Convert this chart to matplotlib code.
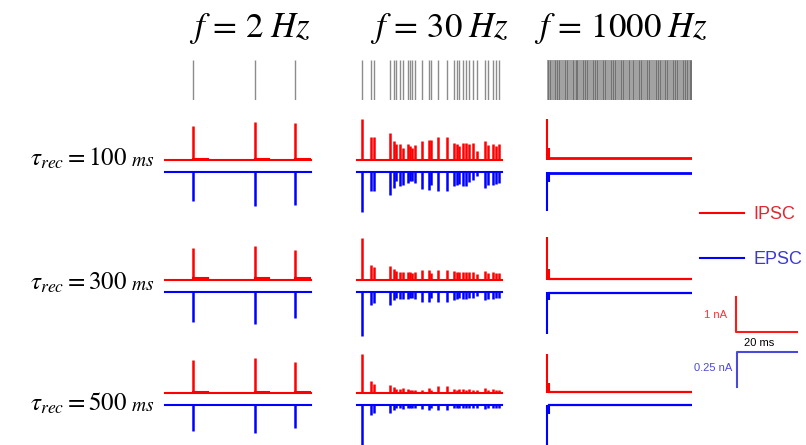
"""
Short-term depression of IPSC / EPSC for three input rates and three
recovery time constants. Spike rasters on top, traces below, scale bars
and legend on the right.
"""

import numpy as np
import matplotlib
matplotlib.use("Agg")
import matplotlib.pyplot as plt
from matplotlib.lines import Line2D

plt.rcParams["mathtext.fontset"] = "stix"
plt.rcParams["font.family"] = ["Liberation Sans", "DejaVu Sans"]

W, H = 806, 445

# ---- data ------------------------------------------------------------
FREQS = [2, 30, 1000]
TAU_REC = [100, 300, 500]
WINDOW_MS = [1500, 1000, 150]

SPIKES_2HZ = [288, 921, 1336]
SPIKES_30HZ = [37, 94, 117, 228, 255, 269, 297, 319, 350, 366, 379, 400,
               450, 497, 510, 561, 619, 671, 688, 703, 733, 754, 770, 802,
               826, 883, 901, 936, 957, 981]
SPIKES_1000HZ_RASTER = [1.0, 3.1, 8.6, 10.7, 12.7, 18.9, 20.3, 27.2, 30.0,
                        31.4, 37.6, 39.7, 41.0, 47.9, 50.0, 51.4, 58.3, 60.3,
                        66.6, 68.6, 70.7, 76.9, 78.9, 85.1, 89.3, 94.8, 96.9,
                        103.8, 105.8, 112.8, 114.8, 116.9, 122.4, 124.5,
                        130.7, 132.8, 134.8, 141.0, 143.1, 145.1, 147.9, 149.3]
SPIKES_1000HZ_TRACE = [0.5, 1.6]

# peak amplitudes (nA), one list per tau_rec row
IPSC_2HZ = [[0.97, 1.09, 1.07], [0.91, 0.96, 0.84], [0.94, 1.00, 0.89]]
EPSC_2HZ = [[0.205, 0.243, 0.236], [0.214, 0.226, 0.184], [0.186, 0.200, 0.164]]
IPSC_2HZ_TAIL = 0.04     # small residual after each spike (nA)
TAIL_MS = 150

IPSC_30HZ = [
    [1.16, 0.66, 0.66, 0.78, 0.54, 0.45, 0.45, 0.35, 0.45, 0.40, 0.35, 0.42,
     0.54, 0.57, 0.57, 0.66, 0.66, 0.49, 0.45, 0.40, 0.48, 0.48, 0.45, 0.48,
     0.26, 0.54, 0.42, 0.45, 0.40, 0.45],
    [1.19, 0.43, 0.35, 0.40, 0.30, 0.25, 0.23, 0.23, 0.23, 0.22, 0.20, 0.22,
     0.27, 0.27, 0.20, 0.27, 0.27, 0.25, 0.22, 0.21, 0.23, 0.22, 0.21, 0.22,
     0.16, 0.24, 0.20, 0.22, 0.20, 0.20],
    [1.12, 0.33, 0.26, 0.24, 0.17, 0.11, 0.12, 0.14, 0.11, 0.08, 0.08, 0.10,
     0.10, 0.14, 0.10, 0.19, 0.19, 0.11, 0.10, 0.11, 0.11, 0.10, 0.11, 0.10,
     0.08, 0.14, 0.10, 0.11, 0.08, 0.10],
]
EPSC_30HZ = [
    [0.288, 0.133, 0.133, 0.162, 0.114, 0.067, 0.102, 0.090, 0.079, 0.067,
     0.067, 0.079, 0.119, 0.126, 0.090, 0.133, 0.133, 0.098, 0.090, 0.083,
     0.098, 0.102, 0.074, 0.055, 0.031, 0.114, 0.090, 0.090, 0.083, 0.079],
    [0.315, 0.096, 0.076, 0.096, 0.055, 0.045, 0.050, 0.050, 0.050, 0.045,
     0.040, 0.050, 0.070, 0.070, 0.045, 0.070, 0.070, 0.055, 0.050, 0.045,
     0.050, 0.050, 0.045, 0.040, 0.030, 0.060, 0.050, 0.050, 0.045, 0.045],
    [0.286, 0.071, 0.055, 0.055, 0.036, 0.024, 0.024, 0.030, 0.024, 0.020,
     0.020, 0.024, 0.030, 0.036, 0.020, 0.036, 0.036, 0.024, 0.024, 0.020,
     0.024, 0.024, 0.020, 0.024, 0.018, 0.030, 0.024, 0.024, 0.020, 0.024],
]
# 1000 Hz: first spike, second spike, steady state
IPSC_1000HZ = [[1.17, 0.34, 0.06], [1.21, 0.30, 0.03], [1.11, 0.29, 0.02]]
EPSC_1000HZ = [[0.28, 0.07, 0.007], [0.30, 0.06, 0.004], [0.29, 0.064, 0.003]]

# ---- layout (pixels) ---------------------------------------------------
COL_X = [(165, 311), (357, 502), (547, 692)]
RED_BASE = [160, 279.7, 393]
BLUE_BASE = [172, 292, 405]
RASTER_Y = (60, 100)
PX_PER_NA_I = 35.0          # 1 nA
PX_PER_NA_E = 35.0 / 0.25   # 0.25 nA

RED = "#ff0000"
BLUE = "#0000ff"
GRAY = "#8c8c8c"


def px_axes(fig, x0, x1, y0, y1):
    ax = fig.add_axes([x0 / W, 1 - y1 / H, (x1 - x0) / W, (y1 - y0) / H])
    ax.set_axis_off()
    return ax


def trace_axes(fig, col, base, px_per_na, up):
    x0, x1 = COL_X[col]
    if up:
        ax = px_axes(fig, x0, x1, base - 50, base + 5)
        ax.set_ylim(-5 / px_per_na, 50 / px_per_na)
    else:
        ax = px_axes(fig, x0, x1, base - 5, base + 50)
        ax.set_ylim(-50 / px_per_na, 5 / px_per_na)
    ax.set_xlim(0, WINDOW_MS[col])
    return ax


def draw_spikes(ax, times, amps, window, color, sign):
    ax.plot([0, window], [0, 0], color=color, lw=1.5, clip_on=False)
    ax.vlines(times, 0, sign * np.asarray(amps), color=color, lw=1.8,
              clip_on=False)


def main():
    fig = plt.figure(figsize=(W / 100, H / 100), dpi=100)

    # titles
    for col, f in enumerate(FREQS):
        cx = [250, 439, 621][col]
        fig.text(cx / W, 1 - 29 / H, rf"$f\,=\,{f}\;Hz$", fontsize=25,
                 ha="center", va="center")

    # rasters
    raster_spikes = [SPIKES_2HZ, SPIKES_30HZ, SPIKES_1000HZ_RASTER]
    for col in range(3):
        x0, x1 = COL_X[col]
        ax = px_axes(fig, x0, x1, *RASTER_Y)
        ax.set_xlim(0, WINDOW_MS[col])
        ax.set_ylim(0, 1)
        if col == 2:
            ax.axvspan(0.5, WINDOW_MS[col] - 0.3, color="#a2a2a2", lw=0)
            ax.vlines(raster_spikes[col], 0, 1, color="#6a6a6a", lw=0.6)
        else:
            ax.vlines(raster_spikes[col], 0, 1, color=GRAY, lw=1.0)

    # traces
    label_base = [166, 290, 411]
    for row, tau in enumerate(TAU_REC):
        rb, bb = RED_BASE[row], BLUE_BASE[row]

        # 2 Hz
        ai = trace_axes(fig, 0, rb, PX_PER_NA_I, True)
        ae = trace_axes(fig, 0, bb, PX_PER_NA_E, False)
        draw_spikes(ai, SPIKES_2HZ, IPSC_2HZ[row], WINDOW_MS[0], RED, 1)
        for t in SPIKES_2HZ:
            ai.plot([t, min(t + TAIL_MS, WINDOW_MS[0])],
                    [IPSC_2HZ_TAIL, IPSC_2HZ_TAIL], color=RED, lw=1.5)
        draw_spikes(ae, SPIKES_2HZ, EPSC_2HZ[row], WINDOW_MS[0], BLUE, -1)

        # 30 Hz
        ai = trace_axes(fig, 1, rb, PX_PER_NA_I, True)
        ae = trace_axes(fig, 1, bb, PX_PER_NA_E, False)
        draw_spikes(ai, SPIKES_30HZ, IPSC_30HZ[row], WINDOW_MS[1], RED, 1)
        draw_spikes(ae, SPIKES_30HZ, EPSC_30HZ[row], WINDOW_MS[1], BLUE, -1)

        # 1000 Hz
        ai = trace_axes(fig, 2, rb, PX_PER_NA_I, True)
        ae = trace_axes(fig, 2, bb, PX_PER_NA_E, False)
        t0, t1 = SPIKES_1000HZ_TRACE
        for ax, amps, color, sign in ((ai, IPSC_1000HZ[row], RED, 1),
                                      (ae, EPSC_1000HZ[row], BLUE, -1)):
            a1, a2, ss = amps
            ax.plot([0, t0], [0, 0], color=color, lw=1.5)
            ax.vlines([t0, t1], 0, [sign * a1, sign * a2], color=color,
                      lw=1.5, clip_on=False)
            ax.plot([t1, WINDOW_MS[2]], [sign * ss, sign * ss], color=color,
                    lw=2.0 if row == 0 else 1.6)

        # row label
        yb = 1 - label_base[row] / H
        fig.text(127 / W, yb, rf"$\tau_{{rec}} = {tau}$", fontsize=18,
                 ha="right", va="baseline")
        fig.text(131 / W, yb, r"$ms$", fontsize=14, ha="left", va="baseline")

    # legend
    handles = [Line2D([], [], color=RED, lw=1.5),
               Line2D([], [], color=BLUE, lw=1.5)]
    fig.legend(handles, ["IPSC", "EPSC"], loc="upper left",
               bbox_to_anchor=(700 / W, 1 - 206 / H), frameon=False,
               fontsize=13, handlelength=2.45, handletextpad=0.5,
               labelspacing=1.55, borderpad=0, borderaxespad=0,
               labelcolor=["#e8242c", "#3a3ad2"])

    # scale bars: IPSC 1 nA / 20 ms, EPSC 0.25 nA / 20 ms
    sb = px_axes(fig, 735.7, 796.7, 296.7, 331.7)
    sb.set_xlim(0, 20)
    sb.set_ylim(0, 1)
    sb.plot([0, 0, 20], [1, 0, 0], color="#ff1a1a", lw=1.5, clip_on=False)
    sb = px_axes(fig, 736.7, 796.7, 351.7, 386.7)
    sb.set_xlim(0, 20)
    sb.set_ylim(-0.25, 0)
    sb.plot([20, 0, 0], [0, 0, -0.25], color="#4a4ad8", lw=1.5,
            clip_on=False)

    fig.text(727 / W, 1 - 315 / H, "1 nA", color="#ff3030", fontsize=8,
             ha="right", va="center")
    fig.text(759 / W, 1 - 343 / H, "20 ms", color="black", fontsize=8,
             ha="center", va="center")
    fig.text(732 / W, 1 - 368 / H, "0.25 nA", color="#4a4ad8", fontsize=8,
             ha="right", va="center")

    fig.savefig("out.png", dpi=100)


if __name__ == "__main__":
    main()
